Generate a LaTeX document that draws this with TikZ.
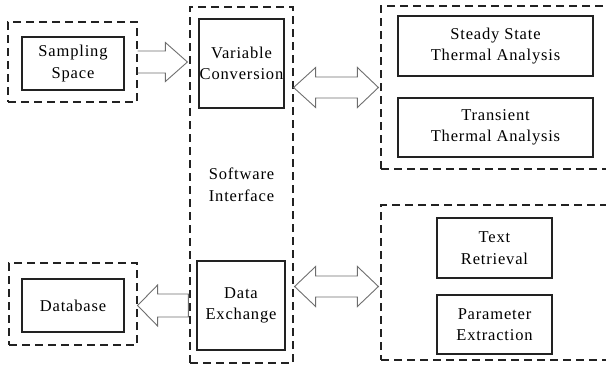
\documentclass[tikz,border=0pt]{standalone}
\usepackage{fontspec}
\setmainfont{Liberation Serif}[LetterSpace=5]
\usetikzlibrary{calc}
\definecolor{ink}{HTML}{222222}
\definecolor{arrowgray}{HTML}{6E6E6E}
\begin{document}
\begin{tikzpicture}[x=1pt,y=-1pt,
  box/.style={draw=ink, line width=1.2pt, inner sep=0pt, align=center,
    text=black, font=\fontsize{16.5}{21.5}\selectfont},
  caption/.style={inner sep=0pt, align=center, text=black,
    font=\fontsize{16.5}{21.5}\selectfont},
  group/.style={draw=ink, line width=1.2pt, dash pattern=on 8pt off 5pt,
    inner sep=0pt},
  blockarrow/.style={draw=arrowgray, line width=0.9pt, line join=miter}]
\useasboundingbox (0,0) rectangle (606,370);
\clip (0,0) rectangle (606,370);

% sampling space
\node[group, minimum width=129pt, minimum height=80pt] (sampOuter) at (72.5,62) {};
\node[box, minimum width=102pt, minimum height=53pt] (samp) at (73,63.5) {Sampling\\Space};

% software interface
\node[group, minimum width=103pt, minimum height=356pt] (si) at (241.5,185) {};
\node[box, minimum width=85pt, minimum height=89pt] (vc) at (241.5,63.5) {Variable\\Conversion};
\node[box, minimum width=88pt, minimum height=89pt] (de) at (241,305.5) {Data\\Exchange};
\node[caption] (siLabel) at (241.5,185) {Software\\Interface};

% database
\node[group, minimum width=128pt, minimum height=82pt] (dbOuter) at (73,304) {};
\node[box, minimum width=102pt, minimum height=53pt] (db) at (73,305.5) {Database};

% thermal analysis group
\node[group, minimum width=231pt, minimum height=163pt] (thermOuter) at (496.5,87.5) {};
\node[box, minimum width=195pt, minimum height=60pt] (ss) at (495.5,46) {Steady State\\Thermal Analysis};
\node[box, minimum width=195pt, minimum height=59pt] (tr) at (495.5,127.5) {Transient\\Thermal Analysis};

% retrieval group
\node[group, minimum width=231pt, minimum height=155pt] (retOuter) at (496.5,282.5) {};
\node[box, minimum width=115pt, minimum height=60pt] (txt) at (494.5,248) {Text\\Retrieval};
\node[box, minimum width=115pt, minimum height=59pt] (par) at (494.5,324.5) {Parameter\\Extraction};

% block arrow: sampling space -> software interface
\draw[blockarrow] let \p1=(sampOuter.east), \p2=(si.west) in
  (\x1,\y1-11pt) -- (\x2-24pt,\y1-11pt) -- (\x2-24pt,\y1-19.5pt) -- (\x2-2pt,\y1)
  -- (\x2-24pt,\y1+19.5pt) -- (\x2-24pt,\y1+11pt) -- (\x1,\y1+11pt);

% block arrow: data exchange -> database
\draw[blockarrow] let \p1=(de.west), \p2=(dbOuter.east) in
  (\x1-8pt,\y1-11.5pt) -- (\x2+20pt,\y1-11.5pt) -- (\x2+20pt,\y1-20.5pt) -- (\x2,\y1)
  -- (\x2+20pt,\y1+20.5pt) -- (\x2+20pt,\y1+11.5pt) -- (\x1-8pt,\y1+11.5pt) -- cycle;

% double block arrow: software interface <-> thermal analysis
\draw[blockarrow] let \p1=(si.east), \p2=(thermOuter.west) in
  (\x1,\y2) -- (\x1+22pt,\y2-20pt) -- (\x1+22pt,\y2-10.5pt) -- (\x2-23pt,\y2-10.5pt)
  -- (\x2-23pt,\y2-20pt) -- (\x2-2pt,\y2) -- (\x2-23pt,\y2+20pt) -- (\x2-23pt,\y2+10.5pt)
  -- (\x1+22pt,\y2+10.5pt) -- (\x1+22pt,\y2+20pt) -- cycle;

% double block arrow: software interface <-> retrieval
\draw[blockarrow] let \p1=(si.east), \p2=(retOuter.west), \p3=($(txt.south)!0.5!(par.north)$) in
  (\x1+1pt,\y3) -- (\x1+22pt,\y3-20pt) -- (\x1+22pt,\y3-10.5pt) -- (\x2-23pt,\y3-10.5pt)
  -- (\x2-23pt,\y3-20pt) -- (\x2-2pt,\y3) -- (\x2-23pt,\y3+20pt) -- (\x2-23pt,\y3+10.5pt)
  -- (\x1+22pt,\y3+10.5pt) -- (\x1+22pt,\y3+20pt) -- cycle;
\end{tikzpicture}
\end{document}
